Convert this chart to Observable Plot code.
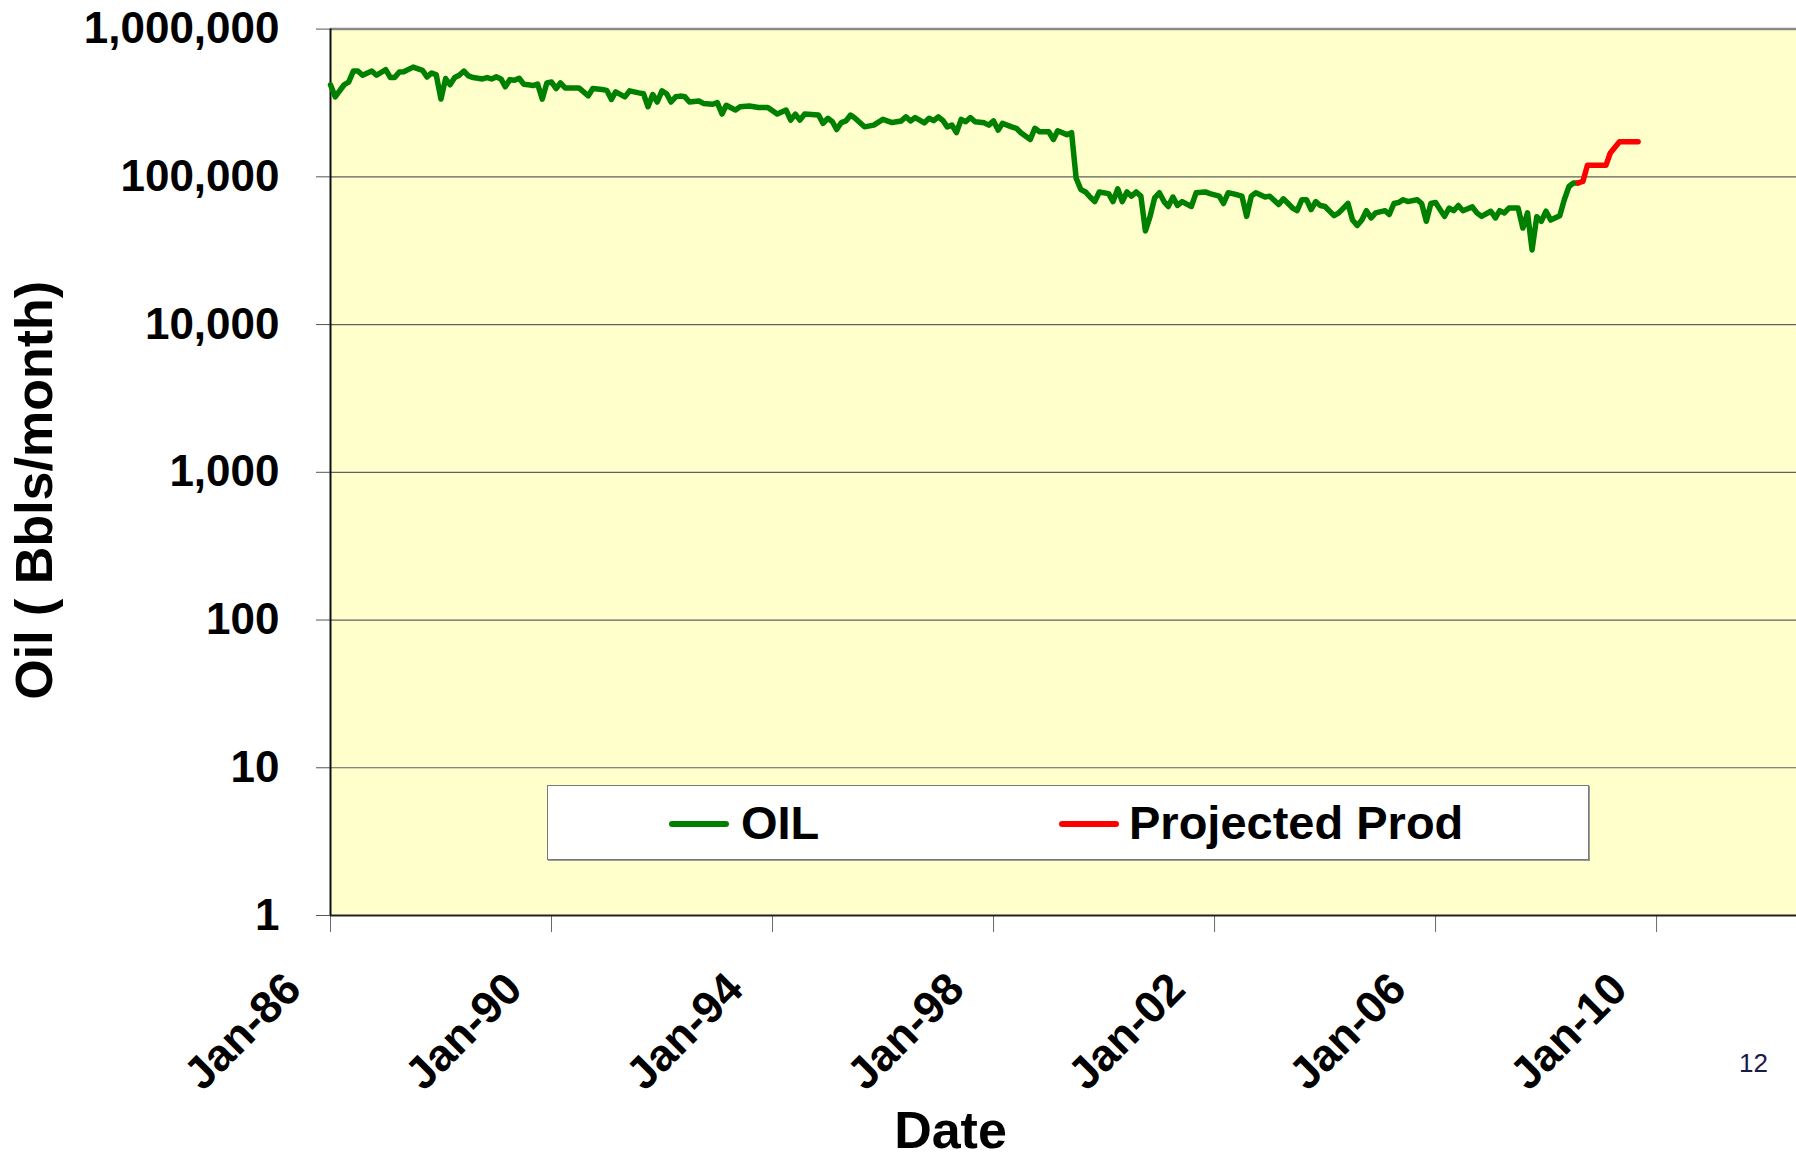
<!DOCTYPE html>
<html>
<head>
<meta charset="utf-8">
<script src="https://cdn.jsdelivr.net/npm/d3@7"></script>
<script src="https://cdn.jsdelivr.net/npm/@observablehq/plot@0.6"></script>
<style>
  body { margin: 0; background: #fff; }
  #wrap { position: relative; width: 1796px; height: 1162px; font-family: "Liberation Sans", Arial, sans-serif; overflow: hidden; }
  #wrap svg { position: absolute; left: 0; top: 0; }
  #legend { position: absolute; left: 547px; top: 785px; width: 1042px; height: 75px; box-sizing: border-box;
            background: #fff; border: 1.5px solid #7a7a7a; box-shadow: 1px 1px 0 #9a9a9a; }
  .sw { position: absolute; top: 35px; height: 5.5px; border-radius: 3px; width: 60px; }
  .lt { position: absolute; top: 13px; font-size: 47px; line-height: 47px; font-weight: bold; color: #000; white-space: nowrap; }
  #page { position: absolute; left: 1739px; top: 1050px; font-size: 26px; line-height: 26px; color: #1a1a4a; }
</style>
</head>
<body>
<div id="wrap">
  <div id="legend"></div>
  <div id="page">12</div>
</div>
<script>
// ---- Data ----
const oilDates = [
  "1986-01","1986-02","1986-04","1986-05","1986-06","1986-07","1986-08","1986-10","1986-11",
  "1987-01","1987-02","1987-03","1987-04","1987-05","1987-07","1987-09","1987-10","1987-11","1987-12",
  "1988-01","1988-02","1988-03","1988-04","1988-05","1988-06","1988-07","1988-08","1988-10","1988-11","1988-12",
  "1989-01","1989-02","1989-03","1989-04","1989-05","1989-06","1989-07","1989-08","1989-09","1989-10","1989-11","1989-12",
  "1990-01","1990-02","1990-03","1990-04","1990-07","1990-09","1990-10","1990-12",
  "1991-01","1991-02","1991-03","1991-05","1991-06","1991-08","1991-09","1991-10","1991-11","1991-12",
  "1992-01","1992-02","1992-03","1992-04","1992-05","1992-06","1992-07","1992-09","1992-10","1992-12",
  "1993-01","1993-02","1993-03","1993-05","1993-06","1993-08","1993-10","1993-12",
  "1994-02","1994-04","1994-05","1994-06","1994-07","1994-08","1994-11","1994-12",
  "1995-01","1995-02","1995-03","1995-04","1995-05","1995-06","1995-07","1995-09","1995-11",
  "1996-01","1996-03","1996-05","1996-06","1996-07","1996-08","1996-10","1996-11","1996-12",
  "1997-01","1997-02","1997-03","1997-04","1997-05","1997-06","1997-07","1997-08","1997-09","1997-11","1997-12",
  "1998-01","1998-02","1998-03","1998-05","1998-06","1998-07","1998-09","1998-10","1998-11",
  "1999-01","1999-02","1999-03","1999-05","1999-06","1999-07","1999-08","1999-09","1999-10","1999-11","1999-12",
  "2000-02","2000-03","2000-04","2000-05","2000-06","2000-07","2000-08","2000-09","2000-10","2000-11","2000-12",
  "2001-01","2001-02","2001-03","2001-04","2001-05","2001-06","2001-08","2001-09","2001-11","2001-12",
  "2002-02","2002-03","2002-04","2002-05","2002-07","2002-08","2002-09","2002-10","2002-12",
  "2003-01","2003-03","2003-04","2003-06","2003-07","2003-08","2003-09","2003-10","2003-11","2003-12",
  "2004-01","2004-03","2004-04","2004-06","2004-07","2004-08","2004-09","2004-10","2004-11","2004-12",
  "2005-02","2005-03","2005-04","2005-05","2005-06","2005-07","2005-09","2005-10","2005-11","2005-12",
  "2006-01","2006-03","2006-04","2006-05","2006-06","2006-07","2006-09","2006-10","2006-11",
  "2007-01","2007-02","2007-03","2007-04","2007-05","2007-07","2007-08","2007-09","2007-10","2007-11","2007-12",
  "2008-01","2008-02","2008-04","2008-05","2008-06","2008-07","2008-08"
];
const oilValues = [
  420000,348000,420000,438000,520000,520000,487000,520000,487000,
  532000,470000,470000,513000,515000,553000,526000,474000,505000,490000,
  336000,463000,420000,470000,487000,520000,482000,470000,460000,470000,460000,
  475000,460000,407000,455000,450000,465000,424000,420000,415000,425000,336000,432000,
  438000,396000,432000,400000,400000,353000,396000,390000,
  385000,334000,376000,348000,382000,370000,365000,298000,361000,321000,
  382000,365000,321000,348000,352000,348000,321000,326000,314000,310000,
  318000,266000,305000,283000,298000,302000,295000,295000,
  266000,283000,242000,266000,242000,266000,262000,230000,
  249000,236000,209000,233000,239000,262000,249000,218000,224000,
  245000,233000,239000,255000,239000,252000,232000,249000,240000,
  255000,240000,218000,224000,199000,245000,236000,252000,236000,232000,224000,
  239000,207000,230000,218000,213000,199000,179000,213000,202000,
  202000,179000,205000,193000,199000,98000,82000,79000,73000,68000,79000,
  77000,68000,83000,68000,79000,74000,79000,74000,43000,54000,72000,
  78000,68000,63000,73000,64000,68000,63000,78000,79000,77000,
  74000,66000,78000,77000,74000,54000,74000,78000,73000,
  74000,65000,71000,61500,59000,70000,70000,60000,68000,64000,
  63000,54600,57000,66000,51000,46800,51000,59000,52700,57000,
  59000,55600,66000,67000,70000,68000,70000,66000,50000,66000,
  67000,54000,61500,59000,64000,59000,62600,57000,54000,
  58500,52700,59000,57000,61500,61500,45000,57000,32000,53700,50000,
  58500,51000,54600,70000,86000,91000,91000
];
const projDates  = ["2008-08","2008-09","2008-10","2009-02","2009-03","2009-05","2009-09"];
const projValues = [91000, 93000, 120000, 120000, 145000, 173000, 173000];

const yTicks = [1, 10, 100, 1000, 10000, 100000, 1000000];
const xTickDates  = ["1986-01","1990-01","1994-01","1998-01","2002-01","2006-01","2010-01"];
const xTickLabels = ["Jan-86","Jan-90","Jan-94","Jan-98","Jan-02","Jan-06","Jan-10"];
const seriesNames = ["OIL", "Projected Prod"];
const seriesColors = ["#008000", "#FF0000"];
const xDomain = ["1986-01-01", "2012-07-14"];

// ---- Build tables ----
const parse = d3.utcParse("%Y-%m");
const oil  = oilDates.map((d, i) => ({date: parse(d), value: oilValues[i]}));
const proj = projDates.map((d, i) => ({date: parse(d), value: projValues[i]}));
const xTicks = xTickDates.map(parse);
const xTickRows = xTicks.map((d, i) => ({date: d, label: xTickLabels[i]}));
const FONT = "'Liberation Sans', Arial, Helvetica, sans-serif";

const chart = Plot.plot({
  width: 1796,
  height: 1162,
  marginLeft: 330,
  marginRight: 0,
  marginTop: 28.6,
  marginBottom: 247,
  style: {fontFamily: FONT, background: "transparent", overflow: "visible"},
  x: {type: "utc", domain: xDomain.map(d => new Date(d))},
  y: {type: "log", domain: [1, 1000000]},
  marks: [
    Plot.frame({fill: "#FFFFCC", stroke: null}),
    Plot.ruleY(yTicks.slice(1, -1), {stroke: "#5f5f5f", strokeWidth: 1.2}),
    Plot.ruleY([1000000], {stroke: "#8a8a8a", strokeWidth: 2.5}),
    Plot.axisY({ticks: yTicks, tickFormat: d3.format(","), tickSize: 14, tickPadding: 37,
                fontSize: 44, fontWeight: "bold", label: null, stroke: "#555"}),
    Plot.axisX({ticks: xTicks, tickSize: 17, tickFormat: () => "", label: null, stroke: "#6a6a6a"}),
    Plot.text(xTickRows, {x: "date", text: "label", frameAnchor: "bottom", rotate: -45,
                          textAnchor: "end", lineAnchor: "bottom", dx: -27, dy: 76,
                          fontSize: 45, fontWeight: "bold", fill: "#000"}),
    Plot.ruleY([1], {stroke: "#222", strokeWidth: 2}),
    Plot.ruleX([new Date(xDomain[0])], {stroke: "#111", strokeWidth: 2}),
    Plot.line(oil, {x: "date", y: "value", stroke: seriesColors[0], strokeWidth: 5.5}),
    Plot.line(proj, {x: "date", y: "value", stroke: seriesColors[1], strokeWidth: 5.5}),
    Plot.text(["Date"], {frameAnchor: "bottom", text: d => d, dx: -113, dy: 216,
                         lineAnchor: "middle", fontSize: 52, fontWeight: "bold", fill: "#000"}),
    Plot.text(["Oil ( Bbls/month)"], {frameAnchor: "left", text: d => d, rotate: -90, dx: -295, dy: 18,
                         lineAnchor: "middle", textAnchor: "middle", fontSize: 52, fontWeight: "bold", fill: "#000"})
  ]
});
document.getElementById("wrap").prepend(chart);

// ---- Legend (inside plot area, as in reference) ----
const legend = document.getElementById("legend");
const items = [{sw: 121, tx: 193}, {sw: 511, tx: 581}];
seriesNames.forEach((name, i) => {
  const s = document.createElement("div");
  s.className = "sw";
  s.style.left = items[i].sw + "px";
  s.style.background = seriesColors[i];
  legend.appendChild(s);
  const t = document.createElement("div");
  t.className = "lt";
  t.style.left = items[i].tx + "px";
  t.textContent = name;
  legend.appendChild(t);
});
</script>
</body>
</html>
